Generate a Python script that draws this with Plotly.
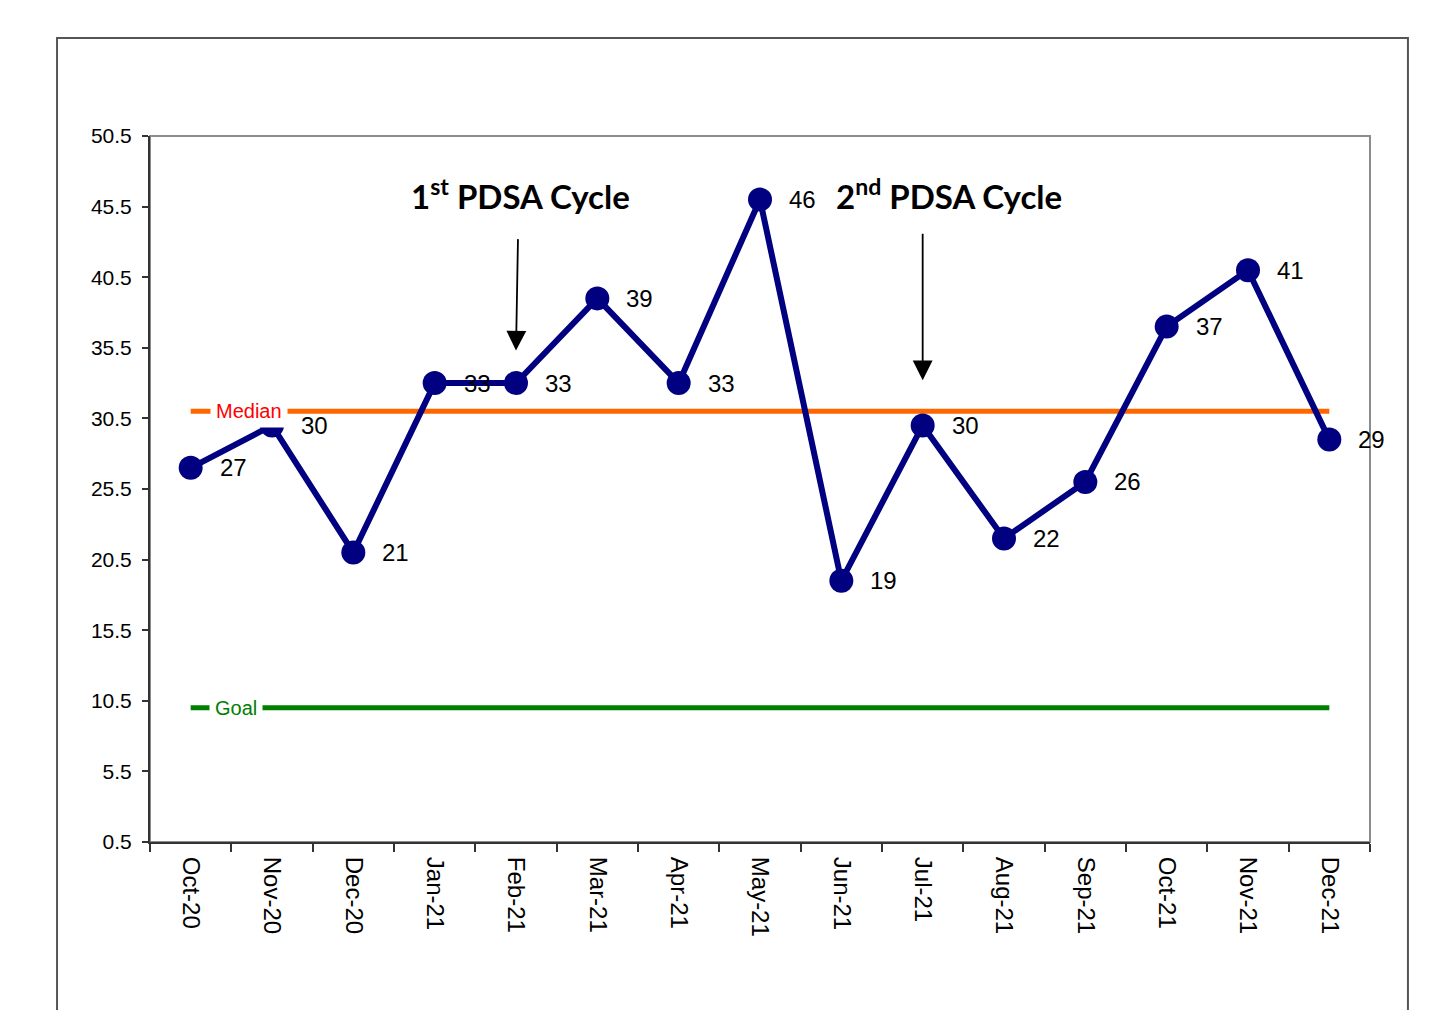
import plotly.graph_objects as go

months = ["Oct-20", "Nov-20", "Dec-20", "Jan-21", "Feb-21", "Mar-21", "Apr-21", "May-21",
          "Jun-21", "Jul-21", "Aug-21", "Sep-21", "Oct-21", "Nov-21", "Dec-21"]
values = [27, 30, 21, 33, 33, 39, 33, 46, 19, 30, 22, 26, 37, 41, 29]
median_value = 31
goal_value = 10
y_ticks = [0.5, 5.5, 10.5, 15.5, 20.5, 25.5, 30.5, 35.5, 40.5, 45.5, 50.5]

NAVY = "#000080"
ORANGE = "#FF6600"
RED = "#FF0000"
GREEN = "#008000"
FONT = "Liberation Sans, Arial, sans-serif"
BOLD = "Lato, Carlito, sans-serif"

fig = go.Figure()

# reference lines
fig.add_trace(go.Scatter(x=[months[0], months[-1]], y=[median_value, median_value],
                         mode="lines", line=dict(color=ORANGE, width=5),
                         hoverinfo="skip", showlegend=False))
fig.add_trace(go.Scatter(x=[months[0], months[-1]], y=[goal_value, goal_value],
                         mode="lines", line=dict(color=GREEN, width=5),
                         hoverinfo="skip", showlegend=False))

# data
fig.add_trace(go.Scatter(x=months, y=values, mode="lines+markers",
                         line=dict(color=NAVY, width=6),
                         marker=dict(color=NAVY, size=24),
                         showlegend=False))

annotations = []
for m, v in zip(months, values):
    annotations.append(dict(x=m, y=v, text=str(v), showarrow=False, xanchor="left",
                            yanchor="middle", xshift=27, yshift=0,
                            font=dict(family=FONT, size=24, color="black")))

# line labels
annotations.append(dict(x=0.717, y=median_value, text="Median", showarrow=False,
                        xanchor="center", yanchor="middle", bgcolor="white", borderpad=5,
                        font=dict(family=FONT, size=20, color=RED)))
annotations.append(dict(x=0.563, y=goal_value, text="Goal", showarrow=False,
                        xanchor="center", yanchor="middle", bgcolor="white", borderpad=5,
                        font=dict(family=FONT, size=20, color=GREEN)))

# PDSA annotations
annotations.append(dict(x=4.05, y=46.4, text="<b>1<sup>st</sup> PDSA Cycle</b>", showarrow=False,
                        xanchor="center", yanchor="middle",
                        font=dict(family=BOLD, size=33, color="black")))
annotations.append(dict(x=9.32, y=46.4, text="<b>2<sup>nd</sup> PDSA Cycle</b>", showarrow=False,
                        xanchor="center", yanchor="middle",
                        font=dict(family=BOLD, size=33, color="black")))
annotations.append(dict(x=months[4], y=35.3, ax=2, ay=-113, axref="pixel", ayref="pixel",
                        text="", showarrow=True, arrowhead=2, arrowsize=2.2, arrowwidth=1.8,
                        arrowcolor="black"))
annotations.append(dict(x=months[9], y=33.2, ax=0, ay=-148, axref="pixel", ayref="pixel",
                        text="", showarrow=True, arrowhead=2, arrowsize=2.2, arrowwidth=1.8,
                        arrowcolor="black"))

shapes = [
    # plot frame (gray top/right)
    dict(type="rect", xref="paper", yref="paper", x0=0, x1=1, y0=0, y1=1,
         line=dict(color="#8c8c8c", width=2), layer="below"),
    # outer box
    dict(type="rect", xref="paper", yref="paper", x0=-0.0762, x1=1.0311, y0=-0.26, y1=1.1388,
         line=dict(color="#555555", width=2), layer="below"),
]

fig.update_layout(
    width=1445, height=1010,
    margin=dict(l=142, r=83, t=128, b=176, pad=0),
    paper_bgcolor="white", plot_bgcolor="white",
    annotations=annotations, shapes=shapes,
    xaxis=dict(type="category", categoryorder="array", categoryarray=months,
               range=[-0.5, 14.5], showgrid=False, zeroline=False,
               showline=True, linecolor="#333333", linewidth=2,
               ticks="outside", ticklen=8, tickwidth=1.5, tickcolor="#333333",
               tickson="boundaries", tickangle=90, ticklabelstandoff=8,
               tickfont=dict(family=FONT, size=24, color="black")),
    yaxis=dict(range=[0.5, 50.5], tickvals=y_ticks, ticktext=[str(t) for t in y_ticks],
               showgrid=False, zeroline=False,
               showline=True, linecolor="#333333", linewidth=2,
               ticks="outside", ticklen=6, tickwidth=1.5, tickcolor="#333333",
               ticklabelstandoff=6,
               tickfont=dict(family=FONT, size=21, color="black")),
)

fig.write_html("out.html")
